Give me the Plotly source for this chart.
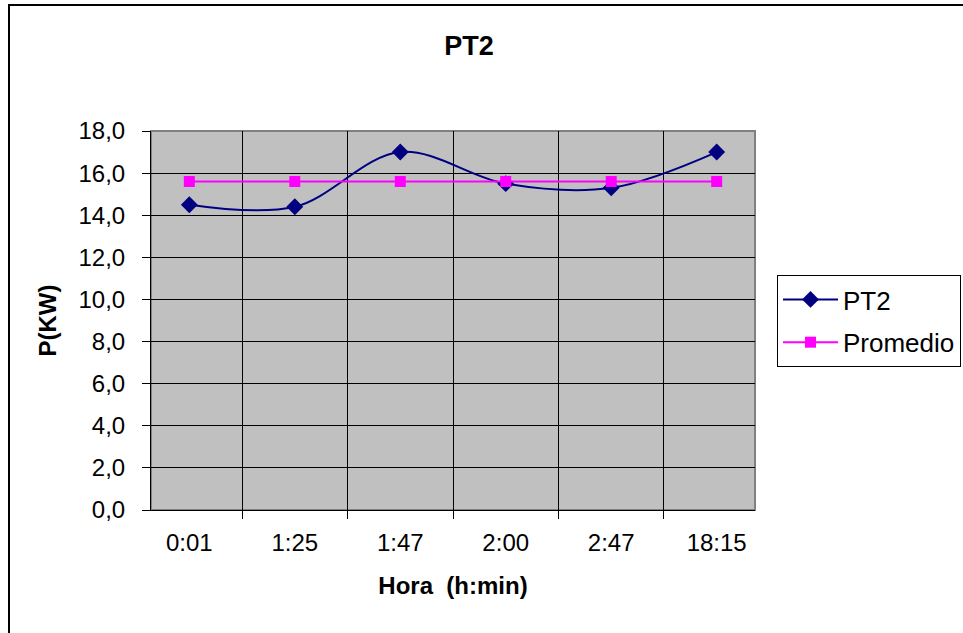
import plotly.graph_objects as go

# Hourly power readings for PT2 and their mean
horas = ["0:01", "1:25", "1:47", "2:00", "2:47", "18:15"]
pt2_kw = [14.5, 14.4, 17.0, 15.5, 15.3, 17.0]
promedio_kw = [15.6, 15.6, 15.6, 15.6, 15.6, 15.6]
y_ticks = [0, 2, 4, 6, 8, 10, 12, 14, 16, 18]

W, H = 963, 633
L, R, T, B = 151, 208, 131, 123
plot_w = W - L - R
plot_h = H - T - B

FONT = "Liberation Sans, Arial, sans-serif"

fig = go.Figure()
fig.add_trace(go.Scatter(
    x=horas, y=pt2_kw, name="PT2", mode="lines+markers",
    line=dict(color="#000080", width=2, shape="spline", smoothing=1.0),
    marker=dict(symbol="diamond", size=13, color="#000080"),
    legendgroup="a",
))
fig.add_trace(go.Scatter(
    x=horas, y=promedio_kw, name="Promedio", mode="lines+markers",
    line=dict(color="#FF00FF", width=2),
    marker=dict(symbol="square", size=11, color="#FF00FF"),
    legendgroup="b",
))

# outer chart frame
fig.add_shape(
    type="rect", xref="paper", yref="paper",
    x0=(9 - L) / plot_w, x1=(W + 20 - L) / plot_w,
    y0=(H - B - (H + 20)) / plot_h, y1=(H - B - 5) / plot_h,
    line=dict(color="black", width=2), fillcolor="rgba(0,0,0,0)",
    layer="above",
)
# grey plot-area border
fig.add_shape(
    type="rect", xref="x domain", yref="y domain",
    x0=0, x1=1, y0=0, y1=1,
    line=dict(color="#808080", width=2), layer="below",
)

fig.update_layout(
    width=W, height=H,
    margin=dict(l=L, r=R, t=T, b=B, autoexpand=False),
    paper_bgcolor="white",
    plot_bgcolor="#C0C0C0",
    separators=",.",
    font=dict(family=FONT, size=24, color="black"),
    title=dict(
        text="<b>PT2</b>", x=469 / W, xanchor="center",
        y=1 - 46 / H, yanchor="middle", yref="container",
        font=dict(family=FONT, size=27, color="black"),
    ),
    showlegend=True,
    legend=dict(
        x=(777 - L) / plot_w, xanchor="left",
        y=(H - B - 275) / plot_h, yanchor="top",
        bordercolor="black", borderwidth=1, bgcolor="white",
        font=dict(family=FONT, size=26, color="black"),
        traceorder="grouped", tracegroupgap=6, itemwidth=55,
    ),
    xaxis=dict(
        type="category", categoryorder="array", categoryarray=horas,
        tickson="boundaries", ticks="outside", ticklen=8,
        tickcolor="black", tickwidth=1,
        showgrid=True, gridcolor="black", gridwidth=1,
        showline=True, linecolor="black", linewidth=1,
        zeroline=False, ticklabelstandoff=11,
        tickfont=dict(family=FONT, size=24, color="black"),
        title=dict(text="<b>Hora  (h:min)</b>", standoff=22,
                   font=dict(family=FONT, size=24, color="black")),
        fixedrange=True,
    ),
    yaxis=dict(
        range=[0, 18], tickvals=y_ticks, tickformat=".1f",
        ticks="outside", ticklen=8, tickcolor="black", tickwidth=1,
        showgrid=True, gridcolor="black", gridwidth=1,
        showline=True, linecolor="black", linewidth=1,
        zeroline=False, ticklabelstandoff=12,
        tickfont=dict(family=FONT, size=24, color="black"),
        title=dict(text="<b>P(KW)</b>", standoff=15,
                   font=dict(family=FONT, size=24, color="black")),
        fixedrange=True,
    ),
)

fig.write_html("out.html")
